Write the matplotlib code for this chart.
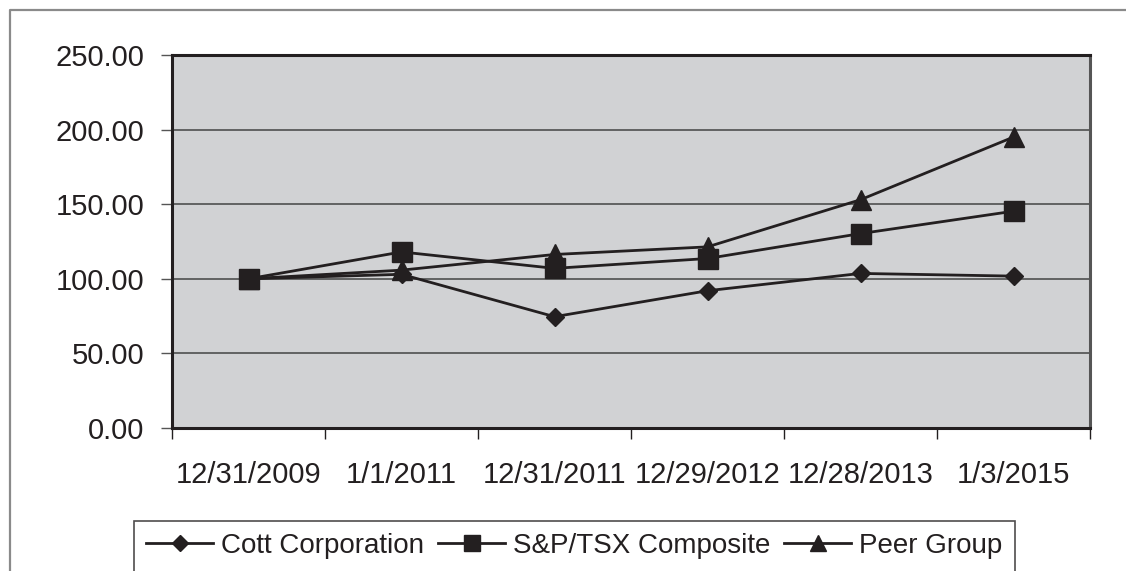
import matplotlib
matplotlib.use("Agg")
import matplotlib.pyplot as plt
from matplotlib.lines import Line2D
from matplotlib.ticker import FixedLocator, FormatStrFormatter

plt.rcParams["font.family"] = ["Liberation Sans", "DejaVu Sans"]

# data
dates = ["12/31/2009", "1/1/2011", "12/31/2011", "12/29/2012", "12/28/2013", "1/3/2015"]
cott = [100.00, 103.0, 74.6, 92.0, 103.6, 101.8]
sp_tsx = [100.00, 118.0, 107.0, 113.6, 130.3, 145.3]
peer = [100.00, 105.8, 116.3, 121.4, 153.0, 195.0]

ink = "#231f20"

W, H = 1126, 571
fig = plt.figure(figsize=(W / 100, H / 100), dpi=100)
ax = fig.add_axes([172 / W, 1 - 428 / H, (1090 - 172) / W, (428 - 55) / H])
ax.set_facecolor("#d1d2d4")

x = list(range(len(dates)))
series = [
    ("Cott Corporation", cott, "D", 9),
    ("S&P/TSX Composite", sp_tsx, "s", 14),
    ("Peer Group", peer, "^", 14),
]
for label, vals, mk, ms in series:
    ax.plot(x, vals, color=ink, lw=2.0, marker=mk, markersize=ms,
            markerfacecolor=ink, markeredgecolor=ink, label=label, zorder=3)

ax.set_xlim(-0.5, len(dates) - 0.5)
ax.set_ylim(0, 250)
ax.set_yticks(range(0, 251, 50))
ax.yaxis.set_major_formatter(FormatStrFormatter("%.2f"))
ax.set_xticks(x)
ax.set_xticklabels(dates)
ax.xaxis.set_minor_locator(FixedLocator([i - 0.5 for i in range(len(dates) + 1)]))

ax.tick_params(axis="x", which="major", length=0, pad=24, labelsize=21, labelcolor=ink)
ax.tick_params(axis="x", which="minor", length=8, width=1, color=ink, direction="out")
ax.tick_params(axis="y", length=8, width=1, color="#555555", pad=12, labelsize=21, labelcolor=ink)

ax.grid(axis="y", color="#444444", lw=1.1, zorder=1)
ax.set_axisbelow(True)
for side in ["top", "left", "bottom"]:
    ax.spines[side].set_color(ink)
    ax.spines[side].set_linewidth(2.2)
ax.spines["right"].set_color("#555555")
ax.spines["right"].set_linewidth(2.2)

# outer frame (left and top edges only)
fig.add_artist(Line2D([10 / W, 10 / W, 1], [0, 1 - 10 / H, 1 - 10 / H],
                      transform=fig.transFigure, color="#8a8a8a", lw=1.6))

handles = [
    Line2D([], [], color=ink, lw=2.0, marker=mk, markersize=ms * 0.85,
           markerfacecolor=ink, markeredgecolor=ink)
    for _, _, mk, ms in series
]
leg = fig.legend(handles, [s[0] for s in series], loc="center",
                 bbox_to_anchor=(574.5 / W, 1 - 546 / H), ncol=3,
                 fontsize=20, frameon=True, fancybox=False, edgecolor=ink,
                 handlelength=2.4, handletextpad=0.3, columnspacing=0.5,
                 borderpad=0.45, labelcolor=ink)
leg.get_frame().set_linewidth(1.2)

fig.savefig("out.png", dpi=100)
